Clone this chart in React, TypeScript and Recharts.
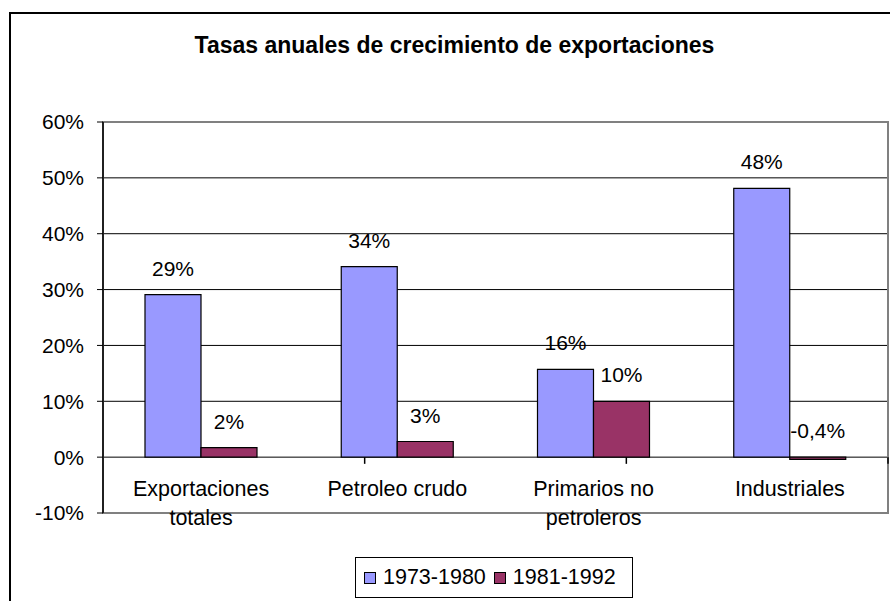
import React from "react";
import {
  BarChart,
  Bar,
  XAxis,
  YAxis,
  CartesianGrid,
  ReferenceArea,
  ReferenceLine,
  LabelList,
  Legend,
} from "recharts";

const categories = [
  "Exportaciones totales",
  "Petroleo crudo",
  "Primarios no petroleros",
  "Industriales",
];
const tickLines = [
  ["Exportaciones", "totales"],
  ["Petroleo crudo"],
  ["Primarios no", "petroleros"],
  ["Industriales"],
];
const seriesNames = ["1973-1980", "1981-1992"];
const series1973 = [0.291, 0.341, 0.157, 0.481];
const series1981 = [0.017, 0.028, 0.1, -0.004];
const yTicks = [-0.1, 0, 0.1, 0.2, 0.3, 0.4, 0.5, 0.6];
const gridValues = yTicks.slice(1, -1);
const categoryBoundaries = categories.map((_, i) => i + 1);

const data = categories.map((name, i) => ({
  name,
  a: series1973[i],
  b: series1981[i],
}));

const FONT = "'Liberation Sans', Arial, sans-serif";
const BLUE = "#9999FF";
const RED = "#993366";

const fmtPct = (v: number) => {
  const p = v * 100;
  if (Math.abs(p) < 1) return p.toFixed(1).replace(".", ",") + "%";
  return Math.round(p) + "%";
};

const renderLabel = (props: any) => {
  const vb = props.viewBox && props.viewBox.width !== undefined ? props.viewBox : props;
  const { x, y, width, height } = vb;
  const top = Math.min(y, y + height);
  return (
    <text
      x={x + width / 2}
      y={top - 19}
      textAnchor="middle"
      fontSize={21}
      fontFamily={FONT}
      fill="#000"
    >
      {fmtPct(props.value)}
    </text>
  );
};

const CategoryTick = (props: any) => {
  const { x, y, index } = props;
  const lines = tickLines[index] || [String(props.payload?.value ?? "")];
  return (
    <text
      x={x}
      y={y - 17}
      textAnchor="middle"
      fontSize={21.5}
      fontFamily={FONT}
      fill="#000"
    >
      {lines.map((l: string, i: number) => (
        <tspan key={i} x={x} dy={i === 0 ? 0 : 29}>
          {l}
        </tspan>
      ))}
    </text>
  );
};

const renderLegend = (props: any) => {
  const payload = props.payload || [];
  return (
    <div
      style={{
        boxSizing: "border-box",
        width: 278,
        height: 41,
        border: "1px solid #000",
        background: "#fff",
        display: "flex",
        alignItems: "center",
        paddingLeft: 8,
        fontFamily: FONT,
        fontSize: 21.5,
        color: "#000",
      }}
    >
      {payload.map((item: any, i: number) => (
        <div
          key={i}
          style={{ display: "flex", alignItems: "center", marginRight: 8 }}
        >
          <span
            style={{
              display: "inline-block",
              boxSizing: "border-box",
              width: 12,
              height: 12,
              background: item.color,
              border: "1px solid #000",
              marginRight: 7,
            }}
          />
          <span style={{ lineHeight: 1 }}>{item.value}</span>
        </div>
      ))}
    </div>
  );
};

export default function App() {
  return (
    <div
      style={{
        position: "absolute",
        left: 0,
        top: 0,
        width: 890,
        height: 601,
        overflow: "hidden",
        background: "#fff",
      }}
    >
      <div
        style={{
          position: "absolute",
          left: 9,
          top: 12,
          width: 900,
          height: 620,
          border: "2px solid #000",
          boxSizing: "border-box",
        }}
      />
      <div
        style={{
          position: "absolute",
          left: 0,
          top: 34,
          width: 909,
          textAlign: "center",
          fontFamily: FONT,
          fontWeight: "bold",
          fontSize: 23,
          lineHeight: "23px",
          color: "#000",
        }}
      >
        Tasas anuales de crecimiento de exportaciones
      </div>
      <div style={{ position: "absolute", left: 0, top: 0 }}>
        <BarChart
          width={890}
          height={601}
          data={data}
          margin={{ top: 122, right: 2, bottom: 58, left: 0 }}
          barCategoryGap="21.4%"
          barGap={0}
        >
          <CartesianGrid
            horizontal={true}
            vertical={false}
            stroke="#000"
            strokeWidth={1}
            horizontalValues={gridValues}
          />
          <XAxis
            dataKey="name"
            type="category"
            height={30}
            axisLine={false}
            tickLine={false}
            tickSize={0}
            tickMargin={0}
            interval={0}
            tick={<CategoryTick />}
          />
          <XAxis
            xAxisId="n"
            type="number"
            domain={[0, categories.length]}
            allowDataOverflow
            hide
          />
          <YAxis
            width={103}
            domain={[-0.1, 0.6]}
            ticks={yTicks}
            interval={0}
            allowDataOverflow
            axisLine={{ stroke: "#000", strokeWidth: 1.5 }}
            tickLine={{ stroke: "#000", strokeWidth: 1 }}
            tickSize={6}
            tickMargin={13}
            tickFormatter={(v: number) => `${Math.round(v * 100)}%`}
            tick={{ fontSize: 21, fontFamily: FONT, fill: "#000" }}
          />
          <ReferenceArea
            y1={-0.1}
            y2={0.6}
            fill="none"
            stroke="#808080"
            strokeWidth={2}
            ifOverflow="visible"
          />
          {categoryBoundaries.map((b) => (
            <ReferenceLine
              key={b}
              xAxisId="n"
              segment={[
                { x: b, y: 0 },
                { x: b, y: -0.012 },
              ]}
              stroke="#000"
              strokeWidth={1.5}
              ifOverflow="visible"
            />
          ))}
          <Legend
            layout="horizontal"
            verticalAlign="middle"
            align="center"
            wrapperStyle={{ left: 355, top: 557, width: 278, height: 41 }}
            content={renderLegend}
          />
          <Bar
            dataKey="a"
            name={seriesNames[0]}
            fill={BLUE}
            stroke="#000"
            strokeWidth={1.2}
            isAnimationActive={false}
          >
            <LabelList dataKey="a" content={renderLabel} />
          </Bar>
          <Bar
            dataKey="b"
            name={seriesNames[1]}
            fill={RED}
            stroke="#000"
            strokeWidth={1.2}
            isAnimationActive={false}
          >
            <LabelList dataKey="b" content={renderLabel} />
          </Bar>
        </BarChart>
      </div>
    </div>
  );
}
